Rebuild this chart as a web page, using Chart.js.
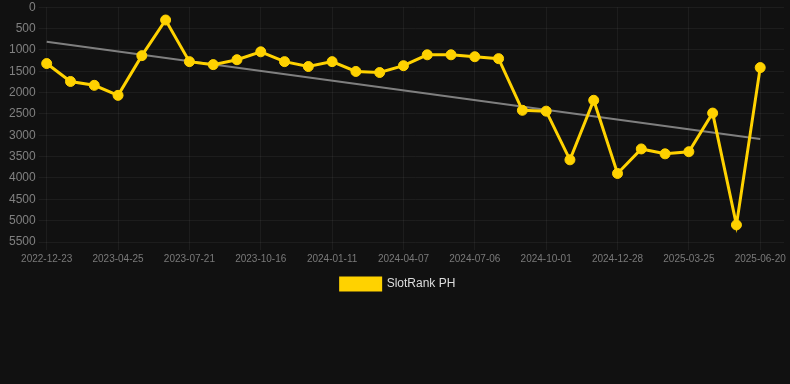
<!doctype html>
<html lang="en">

<head>
    <meta charset="utf-8">
    <title>SlotRank PH</title>
    <style>
        html, body { margin: 0; padding: 0; background: #111111; }
        .chartBox { width: 790px; height: 300px; }
    </style>
</head>

<body>
    <div class="chartBox">
        <canvas id="myChart" width="790" height="300"></canvas>
    </div>

    <script src="https://cdn.jsdelivr.net/npm/chart.js"></script>
    <script>
        // setup
        const dates = [
            '2022-12-23', '2023-02-03', '2023-03-15', '2023-04-25', '2023-05-24', '2023-06-22',
            '2023-07-21', '2023-08-19', '2023-09-17', '2023-10-16', '2023-11-14', '2023-12-13',
            '2024-01-11', '2024-02-09', '2024-03-09', '2024-04-07', '2024-05-07', '2024-06-06',
            '2024-07-06', '2024-08-04', '2024-09-02', '2024-10-01', '2024-10-30', '2024-11-28',
            '2024-12-28', '2025-01-26', '2025-02-24', '2025-03-25', '2025-04-23', '2025-05-22',
            '2025-06-20', ''
        ];
        const rankValues = [
            1320, 1740, 1830, 2065, 1135, 300, 1275, 1345, 1230, 1045, 1275,
            1390, 1275, 1505, 1530, 1370, 1115, 1115, 1160, 1205, 2415, 2435,
            3575, 2180, 3895, 3320, 3435, 3385, 2480, 5100, 1415, null
        ];
        // trend line: only the two end values, drawn straight with spanGaps
        const trendValues = [810, null, null, null, null, null, null, null, null, null, null,
            null, null, null, null, null, null, null, null, null, null, null,
            null, null, null, null, null, null, null, null, 3090, null];
        const yTicks = [0, 5500, 500]; // min, max, step

        const yellow = 'rgb(255, 210, 0)';

        const data = {
            labels: dates,
            datasets: [{
                label: 'SlotRank PH',
                data: rankValues,
                borderColor: yellow,
                backgroundColor: yellow,
                borderWidth: 3,
                pointRadius: 5,
                pointHoverRadius: 5,
                pointBackgroundColor: yellow,
                pointBorderColor: yellow,
                pointBorderWidth: 1,
                tension: 0
            }, {
                label: 'trend',
                data: trendValues,
                borderColor: 'rgba(140, 140, 140, 0.9)',
                borderWidth: 2,
                pointRadius: 0,
                spanGaps: true
            }]
        };

        const bgPlugin = {
            id: 'bg',
            beforeDraw: (chart) => {
                const ctx = chart.ctx;
                ctx.save();
                ctx.globalCompositeOperation = 'destination-over';
                ctx.fillStyle = '#111111';
                ctx.fillRect(0, 0, chart.width, chart.height);
                ctx.restore();
            }
        };

        Chart.defaults.font.family = '"Liberation Sans", Arial, Helvetica, sans-serif';

        // config
        const config = {
            type: 'line',
            data,
            plugins: [bgPlugin],
            options: {
                responsive: false,
                animation: false,
                layout: { padding: { left: 6, right: 0, top: 0, bottom: 0 } },
                plugins: {
                    legend: {
                        position: 'bottom',
                        labels: {
                            color: '#dddddd',
                            boxWidth: 40,
                            boxHeight: 12,
                            font: { size: 12 },
                            filter: (item) => item.text !== 'trend'
                        }
                    },
                    tooltip: { enabled: false }
                },
                scales: {
                    x: {
                        grid: { color: 'rgba(255, 255, 255, 0.05)', tickLength: 8 },
                        border: { display: false },
                        ticks: {
                            color: '#7a7a7a',
                            font: { size: 10 },
                            autoSkip: false,
                            maxRotation: 0,
                            callback: function (value, index) {
                                return index % 3 === 0 ? dates[index] : null;
                            }
                        }
                    },
                    y: {
                        reverse: true,
                        min: yTicks[0],
                        max: yTicks[1],
                        grid: { color: 'rgba(255, 255, 255, 0.05)', tickLength: 8 },
                        border: { display: false },
                        ticks: {
                            stepSize: yTicks[2],
                            color: '#808080',
                            font: { size: 12, lineHeight: 0.7 },
                            callback: (value) => String(value)
                        }
                    }
                }
            }
        };

        // render init block
        const myChart = new Chart(document.getElementById('myChart'), config);
    </script>
</body>

</html>
